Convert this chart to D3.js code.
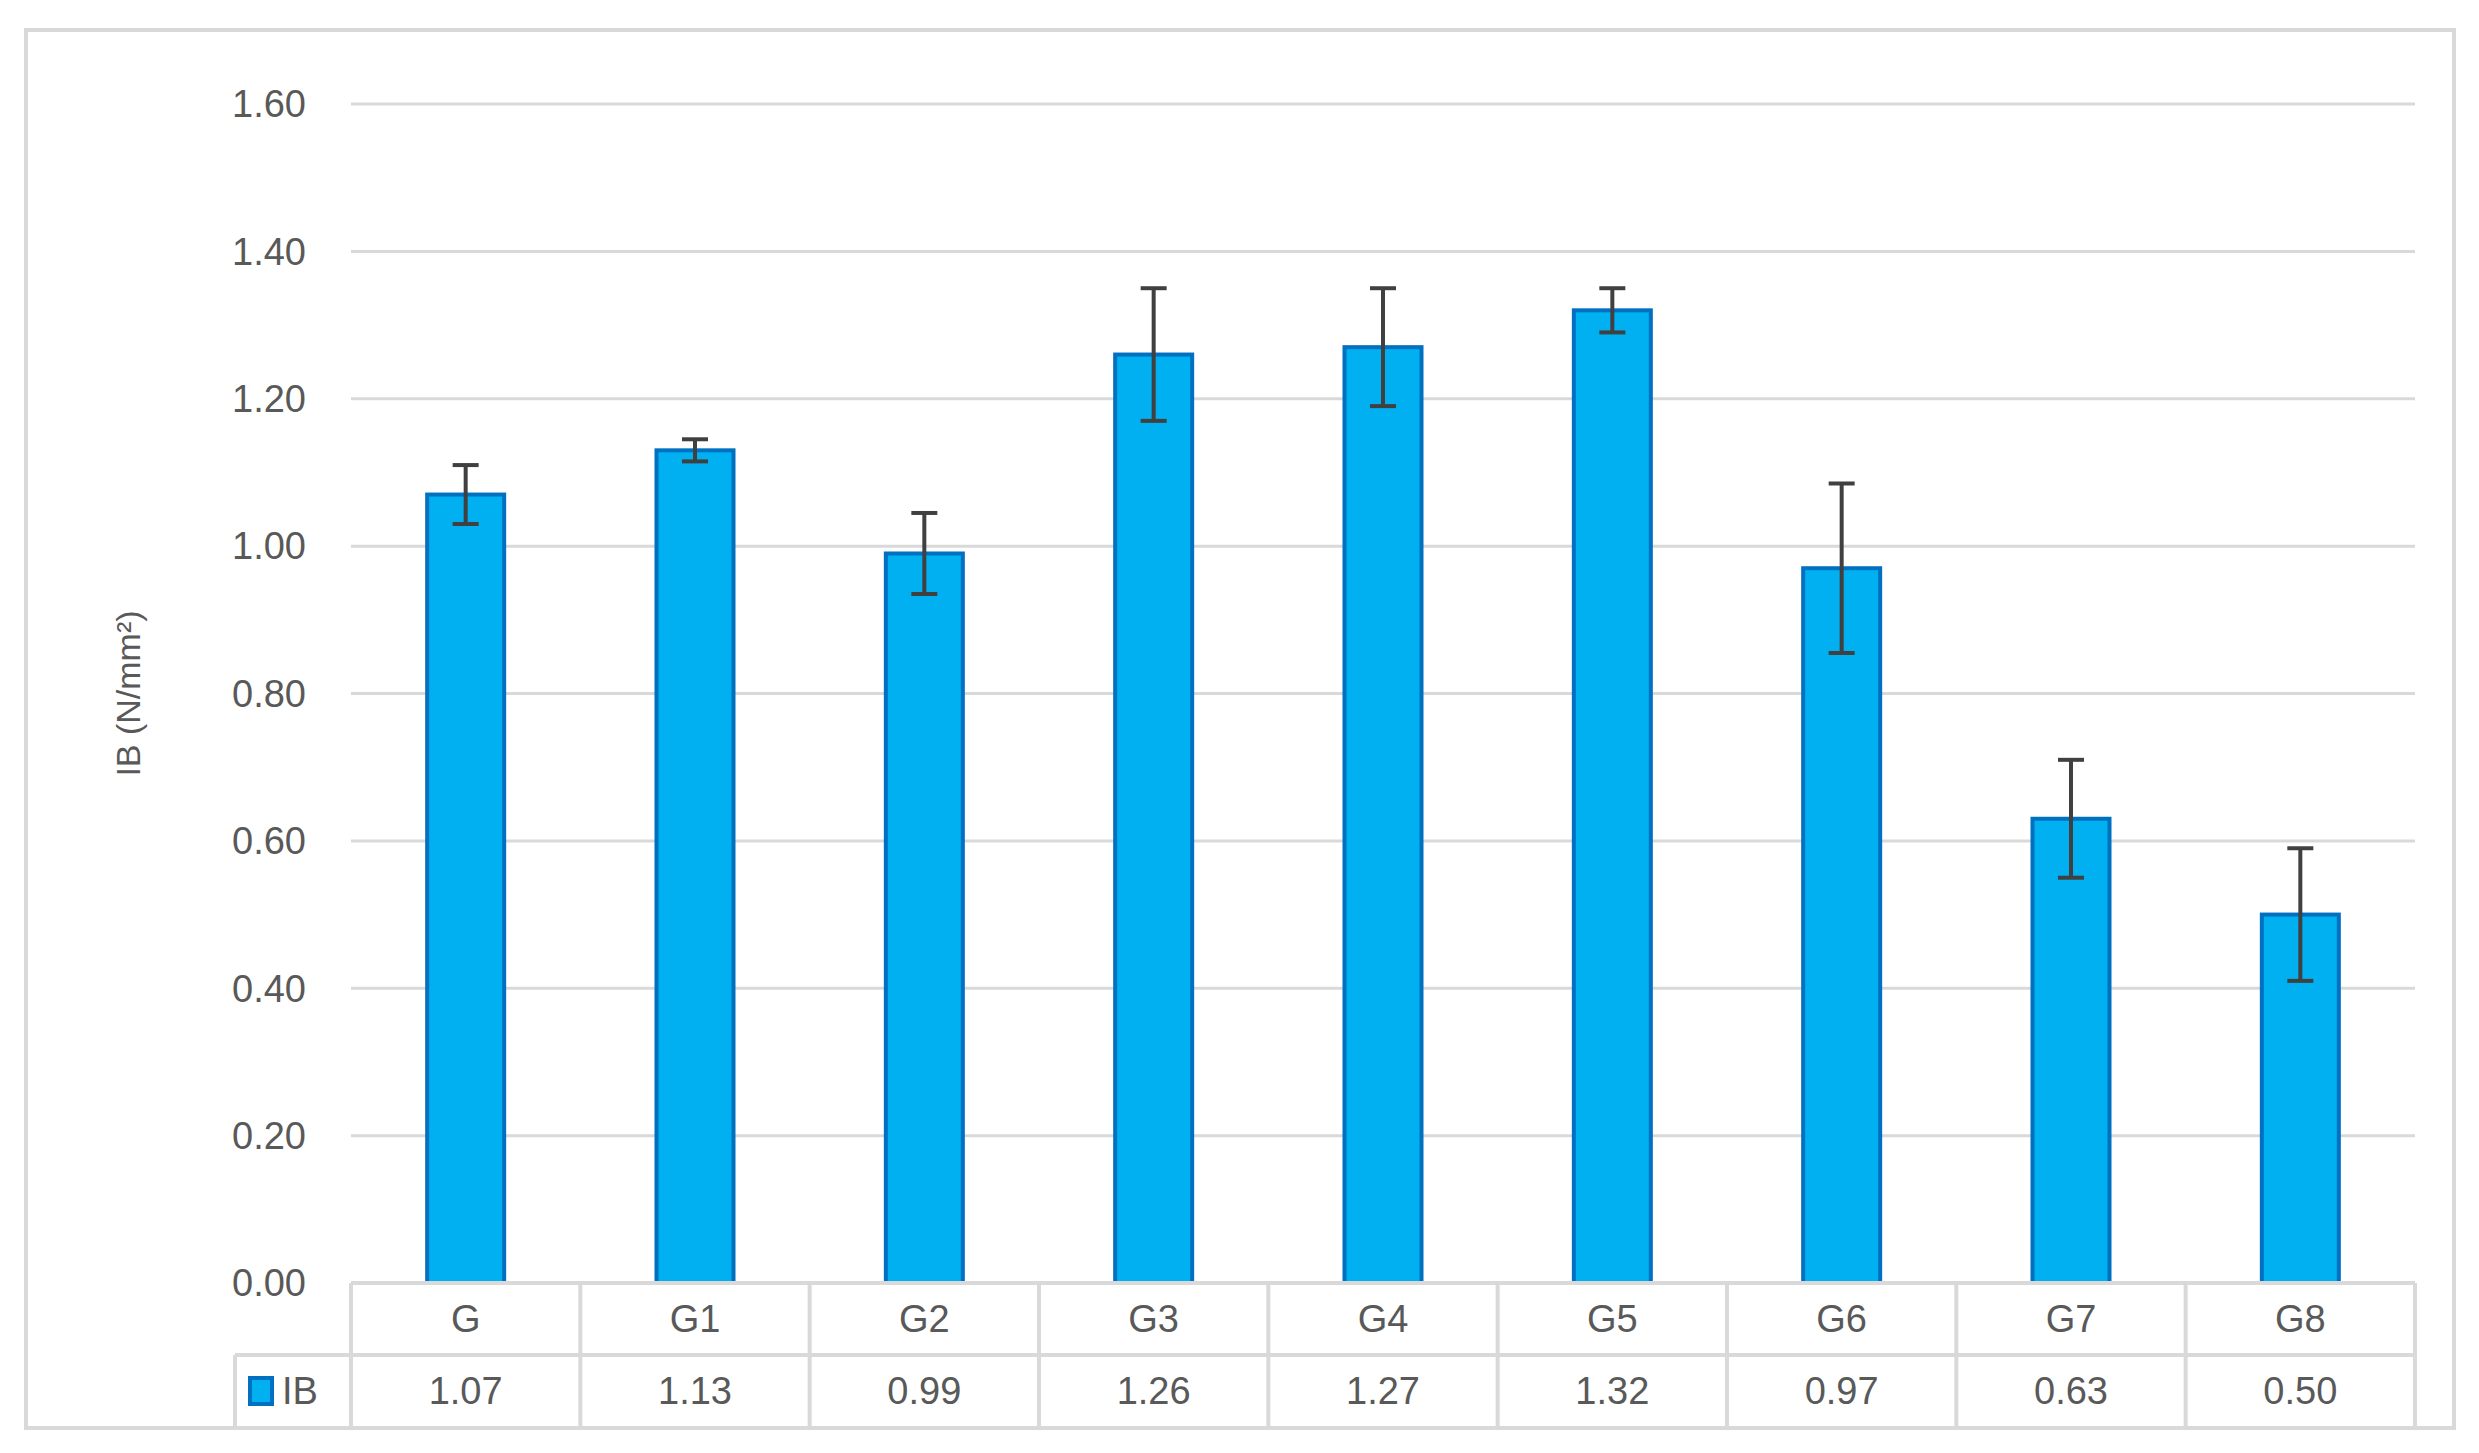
<!DOCTYPE html><html><head><meta charset="utf-8"><script src="https://cdn.jsdelivr.net/npm/d3@7"></script>
<style>body{margin:0;background:#fff}text{font-family:Arial,"Liberation Sans",sans-serif;fill:#595959}</style></head><body>
<svg id="c" width="2479" height="1453"></svg>
<script>
const categories=["G","G1","G2","G3","G4","G5","G6","G7","G8"];
const values=[1.07,1.13,0.99,1.26,1.27,1.32,0.97,0.63,0.50];
const errors=[0.04,0.015,0.055,0.09,0.08,0.03,0.115,0.08,0.09];
const yTicks=[0,0.2,0.4,0.6,0.8,1.0,1.2,1.4,1.6];
const svg=d3.select("#c");
const L=351,R=2415,T=104,B=1283,row=72;
svg.append("rect").attr("x",26).attr("y",30).attr("width",2428).attr("height",1398).attr("fill","#fff").attr("stroke","#d9d9d9").attr("stroke-width",4);
const x=d3.scaleBand().domain(categories).range([L,R]);
const y=d3.scaleLinear().domain([0,1.6]).range([B,T]);
const g=svg.append("g");
g.selectAll(".gl").data(yTicks).join("line").attr("x1",L).attr("x2",R).attr("y1",d=>y(d)).attr("y2",d=>y(d)).attr("stroke","#d9d9d9").attr("stroke-width",3);
g.selectAll(".yt").data(yTicks).join("text").attr("x",L-45).attr("y",d=>y(d)).attr("dy","0.35em").attr("text-anchor","end").attr("font-size",38).text(d=>d.toFixed(2));
svg.append("text").attr("transform",`translate(140,${(T+B)/2}) rotate(-90)`).attr("text-anchor","middle").attr("font-size",34).text("IB (N/mm²)");
const bw=77;
g.selectAll(".bar").data(values).join("rect").attr("x",(d,i)=>x(categories[i])+x.bandwidth()/2-bw/2).attr("y",d=>y(d)).attr("width",bw).attr("height",d=>B-y(d)).attr("fill","#00b0f0").attr("stroke","#0070c0").attr("stroke-width",4);
values.forEach((v,i)=>{const cx=x(categories[i])+x.bandwidth()/2,e=errors[i];
 g.append("line").attr("x1",cx).attr("x2",cx).attr("y1",y(v+e)).attr("y2",y(v-e)).attr("stroke","#404040").attr("stroke-width",4);
 [v+e,v-e].forEach(t=>g.append("line").attr("x1",cx-13).attr("x2",cx+13).attr("y1",y(t)).attr("y2",y(t)).attr("stroke","#404040").attr("stroke-width",4));});
// table
const tc="#d9d9d9";
const lines=[[L,B,R,B],[L,B+row,R,B+row],[235,B+row,235,B+2*row],[235,B+row,L,B+row]];
categories.forEach((c,i)=>lines.push([x(c),B,x(c),B+2*row]));
lines.push([R,B,R,B+2*row]);
lines.forEach(l=>svg.append("line").attr("x1",l[0]).attr("y1",l[1]).attr("x2",l[2]).attr("y2",l[3]).attr("stroke",tc).attr("stroke-width",4));
categories.forEach((c,i)=>{const cx=x(c)+x.bandwidth()/2;
 svg.append("text").attr("x",cx).attr("y",B+row/2).attr("dy","0.35em").attr("text-anchor","middle").attr("font-size",38).text(c);
 svg.append("text").attr("x",cx).attr("y",B+row*1.5).attr("dy","0.35em").attr("text-anchor","middle").attr("font-size",38).text(values[i].toFixed(2));});
svg.append("rect").attr("x",250).attr("y",B+row*1.5-13).attr("width",22).attr("height",26).attr("fill","#00b0f0").attr("stroke","#0070c0").attr("stroke-width",4);
svg.append("text").attr("x",282).attr("y",B+row*1.5).attr("dy","0.35em").attr("font-size",38).text("IB");
</script></body></html>
